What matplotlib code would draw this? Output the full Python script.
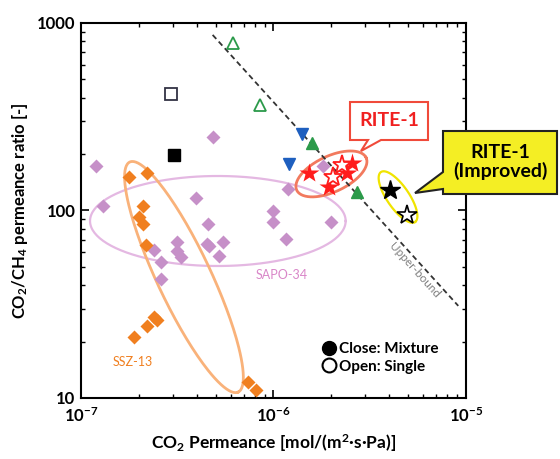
import numpy as np
import matplotlib.pyplot as plt
from matplotlib.patches import Polygon
from matplotlib.lines import Line2D

plt.rcParams['font.family'] = ['Lato', 'DejaVu Sans']
plt.rcParams['font.weight'] = 'bold'
plt.rcParams['mathtext.default'] = 'regular'

# SAPO-34 membranes (purple diamonds)
sapo_x = [1.2e-7, 1.3e-7, 2.39e-7, 2.6e-7, 2.6e-7, 3.14e-7, 3.14e-7, 3.3e-7,
          3.96e-7, 4.5e-7, 4.6e-7, 4.59e-7, 4.87e-7, 5.19e-7, 5.45e-7,
          9.9e-7, 9.9e-7, 1.16e-6, 1.19e-6, 1.8e-6, 2.0e-6]
sapo_y = [173, 106, 61.5, 53.3, 43.1, 67.7, 60.8, 56.3,
          116, 66.3, 64.5, 84.7, 248, 57.4, 67.7,
          99.4, 87.1, 70.5, 131, 173, 86.5]

# SSZ-13 membranes (orange diamonds)
ssz_x = [1.78e-7, 2.19e-7, 2.09e-7, 1.99e-7, 2.09e-7, 2.18e-7, 2.4e-7,
         2.49e-7, 2.19e-7, 1.88e-7, 7.4e-7, 8.1e-7]
ssz_y = [151, 159, 106, 92, 84.7, 65.5, 27.2, 26.1, 24.2, 21.1, 12.1, 11.0]

# other membranes
sq_open = ([2.93e-7], [418])
sq_fill = ([3.04e-7], [198])
tri_open = ([6.16e-7, 8.5e-7], [782, 365])
tri_fill = ([1.58e-6, 2.72e-6], [228, 126])
tri_down = ([1.41e-6, 1.21e-6], [256, 177])

# RITE-1
rite_fill = ([1.535e-6, 2.55e-6, 2.4e-6, 1.95e-6], [159, 180, 158, 134])
rite_open = ([2.28e-6, 2.05e-6], [175, 150])
impr_fill = ([4.03e-6], [128.6])
impr_open = ([4.95e-6], [94.6])

# upper bound
ub_x = [4.83e-7, 9.12e-6]
ub_y = [864, 31.0]

PURPLE = '#c690c8'
ORANGE = '#f07f1f'
GREEN = '#2b9a4a'
BLUE = '#1e5fbf'
RED = '#ff1c1c'


def log_ellipse(ax, cx, cy, a, b, angle, color, lw):
    """ Draw an ellipse defined in decades on a log-log axes. """
    t = np.linspace(0, 2 * np.pi, 200)
    th = np.deg2rad(angle)
    u = a * np.cos(t)
    v = b * np.sin(t)
    lx = cx + u * np.cos(th) - v * np.sin(th)
    ly = cy + u * np.sin(th) + v * np.cos(th)
    ax.plot(10 ** lx, 10 ** ly, color=color, lw=lw, zorder=1)


fig = plt.figure(figsize=(5.6, 4.59), dpi=100)
ax = fig.add_axes([0.1446, 0.1329, 0.6875, 0.817])
ax.set_xscale('log')
ax.set_yscale('log')
ax.set_xlim(1e-7, 1e-5)
ax.set_ylim(10, 1000)

# ellipses
log_ellipse(ax, -6.289, 1.944, 0.664, 0.24, 0, '#e4b8e2', 1.6)
log_ellipse(ax, -6.465, 1.645, 0.675, 0.14, -65.4, '#f9b27a', 2.0)
log_ellipse(ax, -5.699, 2.195, 0.2, 0.095, 26, '#f27a5e', 2.0)
log_ellipse(ax, -5.353, 2.072, 0.16, 0.058, -56.5, '#f0e400', 1.6)

ax.plot(ub_x, ub_y, ls=(0, (3, 2)), color='#333333', lw=1.3, zorder=2)

ax.plot(sapo_x, sapo_y, 'D', color=PURPLE, ms=7.5, mec='none', zorder=3)
ax.plot(ssz_x, ssz_y, 'D', color=ORANGE, ms=7.5, mec='none', zorder=3)
ax.plot(*sq_open, 's', mfc='white', mec='#333344', mew=1.3, ms=9, zorder=3)
ax.plot(*sq_fill, 's', color='black', ms=9, zorder=3)
ax.plot(*tri_open, '^', mfc='white', mec=GREEN, mew=1.3, ms=9, zorder=3)
ax.plot(*tri_fill, '^', color=GREEN, ms=9, zorder=3)
ax.plot(*tri_down, 'v', color=BLUE, ms=9, zorder=3)
ax.plot(*rite_fill, '*', color=RED, ms=15, mec='none', zorder=4)
ax.plot(*rite_open, '*', mfc='white', mec=RED, mew=1.3, ms=14, zorder=4)
ax.plot(*impr_fill, '*', color='black', ms=15, zorder=4)
ax.plot(*impr_open, '*', mfc='white', mec='black', mew=1.2, ms=15, zorder=4)

# group labels
ax.text(1.106e-6, 45.3, 'SAPO-34', color='#d986c8', fontsize=9,
        fontweight='normal', ha='center', va='center')
ax.text(1.862e-7, 15.6, 'SSZ-13', color=ORANGE, fontsize=9,
        fontweight='normal', ha='center', va='center')
ax.text(5.43e-6, 48.2, 'Upper-bound', color='#808080', fontsize=8.5,
        fontweight='normal', ha='center', va='center', rotation=-48)

# axes styling
for s in ax.spines.values():
    s.set_linewidth(1.5)
ax.tick_params(which='both', direction='in', top=True, right=True)
ax.tick_params(which='major', length=6, width=1.2, labelsize=12)
ax.tick_params(which='minor', length=3, width=1.0)
ax.set_yticks([10, 100, 1000])
ax.set_yticklabels(['10', '100', '1000'])
ax.tick_params(axis='y', pad=4)
ax.tick_params(axis='x', pad=6)

ax.set_xlabel('CO$_2$ Permeance [mol/(m$^2$·s·Pa)]',
              fontsize=12.5, fontweight='bold', labelpad=5)
ax.set_ylabel('CO$_2$/CH$_4$ permeance ratio [-]',
              fontsize=12, fontweight='bold', labelpad=5)

# legend for closed/open
handles = [Line2D([], [], marker='o', ls='none', color='black', ms=10),
           Line2D([], [], marker='o', ls='none', mfc='white', mec='black',
                  mew=1.5, ms=10)]
ax.legend(handles, ['Close: Mixture', 'Open: Single'], frameon=False,
          loc='upper left', bbox_to_anchor=(0.6, 0.17), handletextpad=0.1,
          handlelength=1.2, borderpad=0, labelspacing=0.25,
          prop={'size': 11, 'weight': 'bold'})


def px(x, y):
    return (x / 560, 1 - y / 459)


# RITE-1 callout
red_box = [px(350, 102), px(428, 102), px(428, 140), px(381, 140),
           px(361, 151), px(368, 140), px(350, 140)]
fig.patches.append(Polygon(red_box, closed=True, transform=fig.transFigure,
                           fc='white', ec='#f04a3a', lw=1.5, zorder=5))
fig.text(*px(389, 121), 'RITE-1', color='#f02020', fontsize=14,
         fontweight='bold', ha='center', va='center', zorder=6)

# RITE-1 (Improved) callout
yel_box = [px(443, 131), px(557, 131), px(557, 194), px(443, 194),
           px(443, 189), px(415, 193), px(443, 172)]
fig.patches.append(Polygon(yel_box, closed=True, transform=fig.transFigure,
                           fc='#f4ee24', ec='#222222', lw=1.5, zorder=5))
fig.text(*px(500, 162), 'RITE-1\n(Improved)', color='black', fontsize=14,
         fontweight='bold', ha='center', va='center', linespacing=1.1,
         zorder=6)

fig.savefig('out.png', dpi=100)
